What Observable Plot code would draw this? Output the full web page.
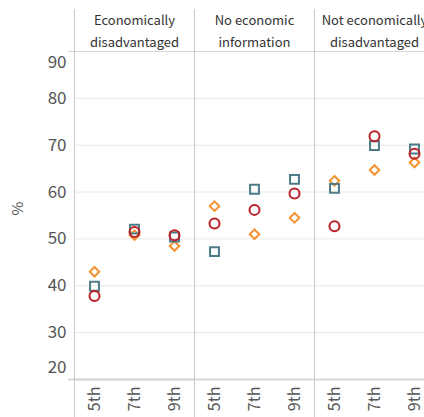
<!DOCTYPE html>
<html><head><meta charset="utf-8">
<script src="https://cdn.jsdelivr.net/npm/d3@7"></script>
<script src="https://cdn.jsdelivr.net/npm/@observablehq/plot@0.6"></script>
<style>
html,body{margin:0;padding:0;overflow:hidden;background:#fff;}
</style></head><body><div id="chart"></div>
<script>
const groups = ["Economically disadvantaged", "No economic information", "Not economically disadvantaged"];
const groupLabels = ["Economically\ndisadvantaged", "No economic\ninformation", "Not economically\ndisadvantaged"];
const grades = ["5th", "7th", "9th"];
const yTicksMid = [30, 40, 50, 60, 70, 80];
const yTickTop = [90];
const yTickBottom = [20];
// values in order: group1 5th,7th,9th, group2 ..., group3 ...
const circleValues = [37.8, 51.5, 50.8, 53.3, 56.2, 59.7, 52.7, 71.9, 68.2];
const squareValues = [39.9, 52.1, 50.4, 47.3, 60.6, 62.7, 60.8, 69.9, 69.2];
const diamondValues = [43.0, 50.8, 48.5, 57.0, 51.0, 54.5, 62.4, 64.7, 66.3];

const toRows = vals => vals.map((v, i) => ({group: groups[Math.floor(i / 3)], grade: grades[i % 3], value: v}));
const font = '"Noto Sans CJK JP", "Noto Sans", sans-serif';
const axisStyle = {tickSize: 0, tickPadding: 8, fontSize: 17, fill: "#555", label: null};

const chart = Plot.plot({
  width: 434, height: 417,
  marginTop: 51, marginBottom: 38, marginLeft: 74, marginRight: 0,
  style: {fontFamily: font, background: "#fff", overflow: "visible", maxWidth: "none"},
  fx: {domain: groups, padding: 0, axis: null},
  x: {type: "band", domain: grades, padding: 0, axis: null},
  y: {domain: [20, 90], axis: null, label: null},
  marks: [
    Plot.gridY(yTicksMid, {stroke: "#e9e9e9", strokeOpacity: 1}),
    Plot.ruleY(yTickTop, {stroke: "#d6d6d6"}),
    Plot.ruleY(yTickBottom, {stroke: "#d9d9d9", strokeWidth: 2}),
    Plot.ruleY([{g: groups[0], v: yTickTop[0]}], {fx: "g", y: "v", stroke: "#d6d6d6", insetLeft: -6}),
    Plot.ruleY([{g: groups[0], v: yTickBottom[0]}], {fx: "g", y: "v", stroke: "#d9d9d9", strokeWidth: 2, insetLeft: -6}),
    Plot.frame({anchor: "left", stroke: "#c9c9c9", insetTop: -42, insetBottom: -38}),
    Plot.axisY(yTicksMid, {...axisStyle}),
    Plot.axisY(yTickTop, {...axisStyle, dy: 11}),
    Plot.axisY(yTickBottom, {...axisStyle, dy: -12}),
    Plot.text([groups[0]], {fx: d => d, text: ["%"], frameAnchor: "left", dx: -56, rotate: -90, fontSize: 15, fill: "#555"}),
    Plot.axisX({tickRotate: -90, tickSize: 0, tickPadding: 7, fontSize: 16, fill: "#555", label: null}),
    Plot.text(groups, {fx: d => d, text: (d, i) => groupLabels[i], frameAnchor: "top", lineAnchor: "middle", dy: -22.5, lineHeight: 1.7, fontSize: 13, fill: "#333"}),
    Plot.dot(toRows(diamondValues), {fx: "group", x: "grade", y: "value", symbol: "diamond2", r: 4.3, stroke: "#f3922f", strokeWidth: 2, fill: "none"}),
    Plot.dot(toRows(squareValues), {fx: "group", x: "grade", y: "value", symbol: "square", r: 5, stroke: "#4b7c88", strokeWidth: 2, fill: "none"}),
    Plot.dot(toRows(circleValues), {fx: "group", x: "grade", y: "value", symbol: "circle", r: 5, stroke: "#bd1e26", strokeWidth: 2, fill: "none"})
  ]
});
document.getElementById("chart").appendChild(chart);
</script></body></html>
